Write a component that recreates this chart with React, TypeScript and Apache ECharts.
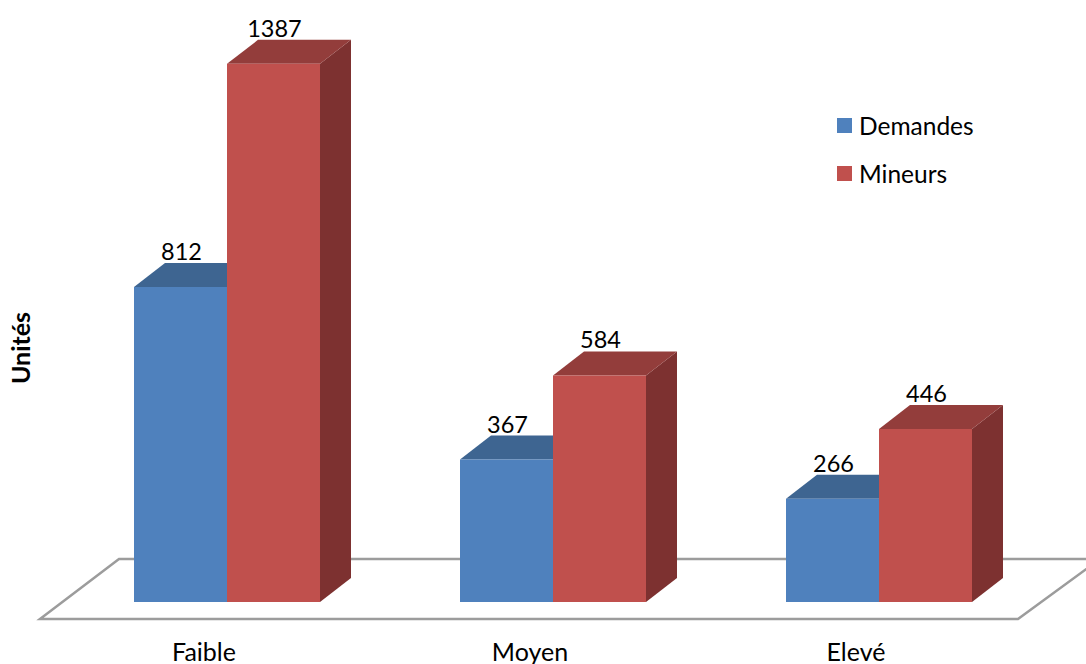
import React, { useEffect, useRef } from "react";
import * as echarts from "echarts";

const categories = ["Faible", "Moyen", "Elevé"];
const demandes = [812, 367, 266];
const mineurs = [1387, 584, 446];

const FONT = "Lato, 'Noto Sans', sans-serif";
const BAR_W = 93;
const DX = 31;
const DY = 24;
const SHIFT = 23;

const makeRender = (side: number, front: string, top: string, right: string) => (params: any, api: any) => {
  const c = api.value(0);
  const v = api.value(1);
  const base = api.coord([c, 0]);
  const head = api.coord([c, v]);
  const x0 = base[0] + SHIFT + (side === 0 ? -BAR_W : 0);
  const x1 = x0 + BAR_W;
  const y0 = head[1];
  const y1 = base[1];
  return {
    type: "group",
    children: [
      { type: "polygon", shape: { points: [[x1, y0], [x1 + DX, y0 - DY], [x1 + DX, y1 - DY], [x1, y1]] }, style: { fill: right } },
      { type: "polygon", shape: { points: [[x0, y0], [x0 + DX, y0 - DY], [x1 + DX, y0 - DY], [x1, y0]] }, style: { fill: top } },
      { type: "rect", shape: { x: x0, y: y0, width: BAR_W, height: y1 - y0 }, style: { fill: front } },
      {
        type: "text",
        style: {
          x: (x0 + x1) / 2 + 1,
          y: y0 - DY,
          text: String(v),
          fill: "#000",
          font: `23.5px ${FONT}`,
          textAlign: "center",
          textVerticalAlign: "bottom",
        },
      },
    ],
  };
};

export default function App() {
  const ref = useRef<HTMLDivElement>(null);
  useEffect(() => {
    document.body.style.margin = "0";
    const chart = echarts.init(ref.current!, undefined, { renderer: "svg" });
    chart.setOption({
      animation: false,
      backgroundColor: "#fff",
      grid: { left: 41, top: 20, width: 978, height: 582, outerBoundsMode: "none" },
      xAxis: {
        type: "category",
        data: categories,
        axisLine: { show: false },
        axisTick: { show: false },
        axisLabel: { color: "#000", fontFamily: FONT, fontSize: 25, margin: 36, interval: 0 },
      },
      yAxis: {
        type: "value",
        min: 0,
        max: 1500,
        interval: 500,
        axisLabel: { show: false },
        axisLine: { show: false },
        axisTick: { show: false },
        splitLine: { show: false },
        name: "Unités",
        nameLocation: "middle",
        nameRotate: 90,
        nameGap: 9,
        nameTextStyle: { color: "#000", fontFamily: FONT, fontSize: 25, fontWeight: "bold", padding: [0, 74, 0, 0] },
      },
      legend: {
        orient: "vertical",
        left: 837,
        top: 113,
        padding: 0,
        itemWidth: 15,
        itemHeight: 15,
        itemGap: 23,
        icon: "rect",
        textStyle: { color: "#000", fontFamily: FONT, fontSize: 24.5, padding: [0, 0, 0, 2] },
        data: ["Demandes", "Mineurs"],
      },
      graphic: [
        {
          type: "polygon",
          silent: true,
          z: 0,
          shape: { points: [[40, 619], [119, 559], [1100, 559], [1018, 619]] },
          style: { fill: "none", stroke: "#9C9C9C", lineWidth: 2.5 },
        },
      ],
      series: [
        {
          name: "Demandes",
          type: "custom",
          renderItem: makeRender(0, "#4F81BD", "#3E6591", "#35577F"),
          itemStyle: { color: "#4F81BD" },
          encode: { x: 0, y: 1 },
          data: demandes.map((v, i) => [i, v]),
          z: 2,
        },
        {
          name: "Mineurs",
          type: "custom",
          renderItem: makeRender(1, "#C0504D", "#933D3B", "#7D3130"),
          itemStyle: { color: "#C0504D" },
          encode: { x: 0, y: 1 },
          data: mineurs.map((v, i) => [i, v]),
          z: 3,
        },
      ],
    });
    return () => chart.dispose();
  }, []);
  return <div ref={ref} style={{ position: "fixed", left: 0, top: 0, width: 1086, height: 664 }} />;
}
